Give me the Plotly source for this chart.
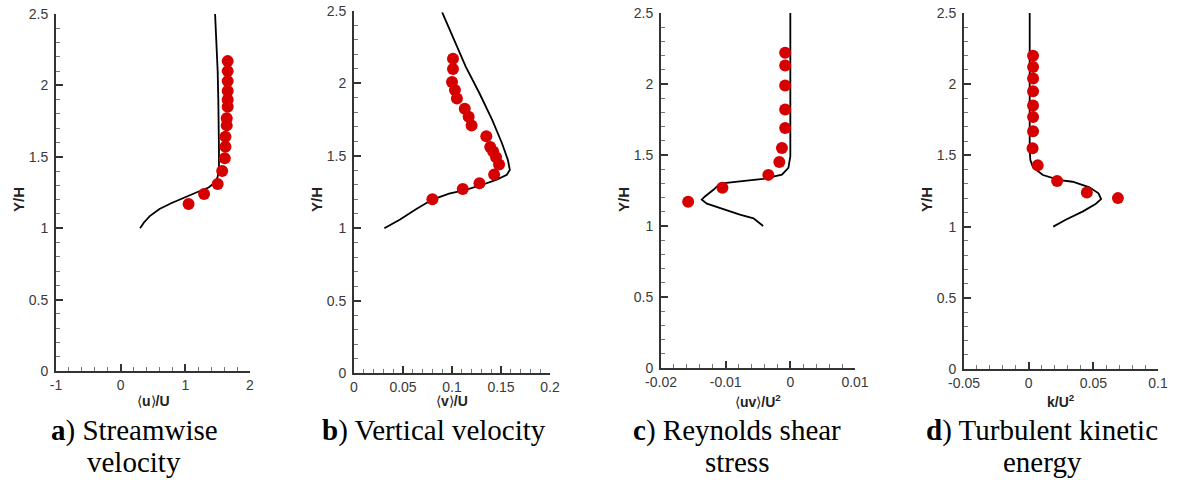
import plotly.graph_objects as go

# ---------------- data ----------------
# a) streamwise velocity
a_line_x = [0.30, 0.36, 0.45, 0.60, 0.78, 0.95, 1.17, 1.36, 1.46, 1.50, 1.52, 1.52, 1.52, 1.51, 1.50, 1.48, 1.46]
a_line_y = [1.00, 1.04, 1.085, 1.135, 1.175, 1.21, 1.25, 1.285, 1.32, 1.36, 1.43, 1.55, 1.70, 1.90, 2.10, 2.30, 2.50]
a_pts_x = [1.05, 1.29, 1.50, 1.57, 1.61, 1.62, 1.62, 1.64, 1.64, 1.655, 1.655, 1.655, 1.655, 1.655, 1.655]
a_pts_y = [1.17, 1.24, 1.31, 1.40, 1.49, 1.57, 1.64, 1.72, 1.77, 1.85, 1.90, 1.96, 2.03, 2.10, 2.17]

# b) vertical velocity
b_line_x = [0.031, 0.047, 0.064, 0.080, 0.097, 0.114, 0.131, 0.145, 0.156, 0.159, 0.157, 0.151, 0.141, 0.128, 0.114, 0.101, 0.090]
b_line_y = [1.00, 1.06, 1.134, 1.198, 1.238, 1.265, 1.30, 1.334, 1.369, 1.403, 1.472, 1.587, 1.748, 1.932, 2.116, 2.32, 2.49]
b_pts_x = [0.080, 0.111, 0.128, 0.143, 0.148, 0.145, 0.142, 0.139, 0.135, 0.120, 0.117, 0.113, 0.105, 0.103, 0.100, 0.101, 0.101]
b_pts_y = [1.20, 1.27, 1.31, 1.37, 1.44, 1.49, 1.53, 1.56, 1.635, 1.71, 1.77, 1.825, 1.895, 1.955, 2.01, 2.10, 2.17]

# c) Reynolds shear stress
c_line_x = [-0.0042, -0.0057, -0.0078, -0.0104, -0.0129, -0.0137, -0.0132, -0.0119, -0.0109, -0.0078, -0.0042, -0.0013, -0.0003, 0.0, 0.0]
c_line_y = [1.00, 1.054, 1.08, 1.12, 1.157, 1.185, 1.208, 1.255, 1.299, 1.315, 1.332, 1.362, 1.409, 1.49, 2.50]
c_pts_x = [-0.0158, -0.0105, -0.0034, -0.0017, -0.0013, -0.0008, -0.0008, -0.0008, -0.0008, -0.0008]
c_pts_y = [1.17, 1.27, 1.36, 1.45, 1.55, 1.69, 1.82, 1.99, 2.13, 2.22]

# d) turbulent kinetic energy
d_line_x = [0.019, 0.029, 0.042, 0.052, 0.056, 0.054, 0.047, 0.034, 0.024, 0.011, 0.0034, 0.0013, 0.0008, 0.0008]
d_line_y = [1.00, 1.05, 1.107, 1.161, 1.193, 1.234, 1.276, 1.315, 1.327, 1.362, 1.416, 1.467, 1.537, 2.50]
d_pts_x = [0.069, 0.045, 0.022, 0.007, 0.003, 0.0034, 0.0034, 0.0034, 0.0034, 0.0034, 0.0034, 0.0034]
d_pts_y = [1.20, 1.24, 1.32, 1.43, 1.55, 1.67, 1.77, 1.85, 1.95, 2.04, 2.12, 2.20]

y_ticks = [0, 0.5, 1, 1.5, 2, 2.5]
y_ticktext = ["0", "0.5", "1", "1.5", "2", "2.5"]

panels = [
    dict(lx=a_line_x, ly=a_line_y, px=a_pts_x, py=a_pts_y,
         xr=[-1, 2], xt=[-1, 0, 1, 2], xtt=["-1", "0", "1", "2"], minor=0.2,
         xtitle="\u27e8<b>u</b>\u27e9<b>/U</b>", cap1="<b>a</b>) Streamwise", cap2="velocity"),
    dict(lx=b_line_x, ly=b_line_y, px=b_pts_x, py=b_pts_y,
         xr=[0, 0.2], xt=[0, 0.05, 0.1, 0.15, 0.2], xtt=["0", "0.05", "0.1", "0.15", "0.2"], minor=0.01,
         xtitle="\u27e8<b>v</b>\u27e9<b>/U</b>", cap1="<b>b</b>) Vertical velocity", cap2=""),
    dict(lx=c_line_x, ly=c_line_y, px=c_pts_x, py=c_pts_y,
         xr=[-0.02, 0.01], xt=[-0.02, -0.01, 0, 0.01], xtt=["-0.02", "-0.01", "0", "0.01"], minor=0.002,
         xtitle="\u27e8<b>uv</b>\u27e9<b>/U<sup>2</sup></b>", cap1="<b>c</b>) Reynolds shear", cap2="stress"),
    dict(lx=d_line_x, ly=d_line_y, px=d_pts_x, py=d_pts_y,
         xr=[-0.05, 0.1], xt=[-0.05, 0, 0.05, 0.1], xtt=["-0.05", "0", "0.05", "0.1"], minor=0.01,
         xtitle="<b>k/U<sup>2</sup></b>", cap1="<b>d</b>) Turbulent kinetic", cap2="energy"),
]

# ---------------- layout geometry (pixels) ----------------
W, H = 1177, 480
px_x = [(56, 250), (354, 550), (661, 855), (964, 1158)]
px_y = [(14, 371), (11, 373), (13, 368), (13, 369)]
cap_cx = [134, 434, 737, 1042]

fig = go.Figure()
layout = dict(
    width=W, height=H, margin=dict(l=0, r=0, t=0, b=0, pad=0, autoexpand=False),
    plot_bgcolor="white", paper_bgcolor="white", showlegend=False,
    font=dict(family="Liberation Sans, Arial", color="#3c3c3c"),
)
annotations = []
axis_col = "#333333"

for i, p in enumerate(panels):
    n = "" if i == 0 else str(i + 1)
    xa, ya = "x" + n, "y" + n
    fig.add_trace(go.Scatter(x=p["lx"], y=p["ly"], mode="lines", xaxis=xa, yaxis=ya,
                             line=dict(color="black", width=1.8), hoverinfo="skip"))
    fig.add_trace(go.Scatter(x=p["px"], y=p["py"], mode="markers", xaxis=xa, yaxis=ya,
                             marker=dict(color="#d50000", size=12, line=dict(width=0))))
    x0, x1 = px_x[i]
    yt, yb = px_y[i]
    layout["xaxis" + n] = dict(
        domain=[x0 / W, x1 / W], anchor=ya, range=p["xr"], tickvals=p["xt"], ticktext=p["xtt"],
        ticks="inside", ticklen=7, tickwidth=2, tickcolor=axis_col,
        showline=True, linecolor=axis_col, linewidth=2, showgrid=False, zeroline=False,
        tickfont=dict(size=14, color="#3a3a3a"), ticklabelstandoff=0, automargin=False,
        minor=dict(ticks="inside", dtick=p["minor"], tick0=p["xr"][0], ticklen=4, tickwidth=1, tickcolor="#777777", showgrid=False),
        fixedrange=True,
    )
    layout["yaxis" + n] = dict(
        domain=[1 - yb / H, 1 - yt / H], anchor=xa, range=[0, 2.5], tickvals=y_ticks, ticktext=y_ticktext,
        ticks="inside", ticklen=7, tickwidth=2, tickcolor=axis_col,
        showline=True, linecolor=axis_col, linewidth=2, showgrid=False, zeroline=False,
        tickfont=dict(size=14, color="#3a3a3a"), ticklabelstandoff=3, automargin=False,
        minor=dict(ticks="inside", dtick=0.1, tick0=0, ticklen=4, tickwidth=1, tickcolor="#777777", showgrid=False),
        fixedrange=True,
    )
    # axis titles
    annotations.append(dict(text=p["xtitle"], x=(x0 + x1) / 2 / W, y=1 - 401 / H, xref="paper", yref="paper",
                            showarrow=False, xanchor="center", yanchor="middle",
                            font=dict(size=14, color="#222222", family="Liberation Sans, Arial")))
    annotations.append(dict(text="<b>Y/H</b>", x=(x0 - 38) / W, y=1 - 200 / H, xref="paper", yref="paper",
                            showarrow=False, xanchor="center", yanchor="middle", textangle=-90,
                            font=dict(size=15, color="#222222", family="Liberation Sans, Arial")))
    # captions
    annotations.append(dict(text=p["cap1"], x=cap_cx[i] / W, y=1 - 430 / H, xref="paper", yref="paper",
                            showarrow=False, xanchor="center", yanchor="middle",
                            font=dict(size=29, color="black", family="Liberation Serif, Times New Roman")))
    if p["cap2"]:
        annotations.append(dict(text=p["cap2"], x=cap_cx[i] / W, y=1 - 462 / H, xref="paper", yref="paper",
                                showarrow=False, xanchor="center", yanchor="middle",
                                font=dict(size=29, color="black", family="Liberation Serif, Times New Roman")))

layout["annotations"] = annotations
fig.update_layout(**layout)
fig.write_html("out.html", config={"displayModeBar": False},
               post_script="document.body.style.margin='0';document.body.style.overflow='hidden';")
